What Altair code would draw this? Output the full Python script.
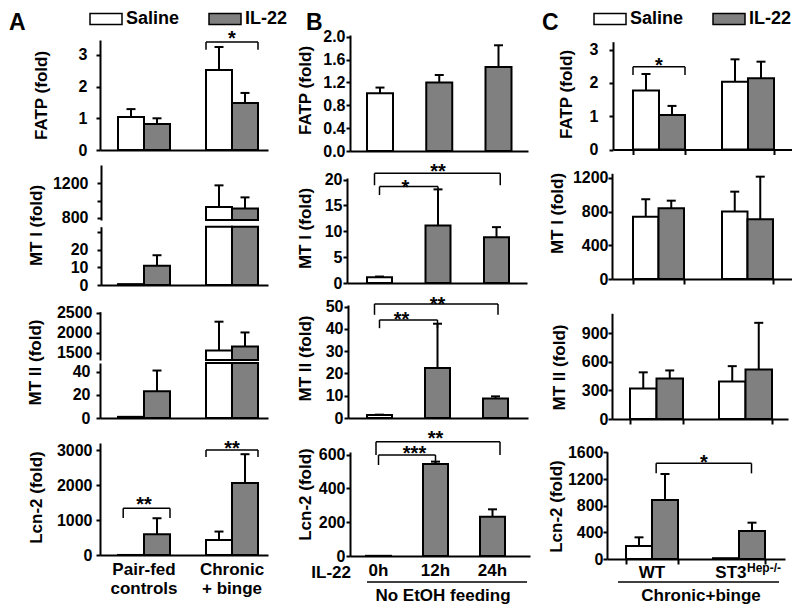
import altair as alt
import pandas as pd

OFF = 8
W, H = 784, 599
FONT = "Liberation Sans"
GRAY = "#808080"

# ---------------- data ----------------
series = ["Saline", "IL-22"]

# Panel A (order: group1-Saline, group1-IL-22, group2-Saline, group2-IL-22)
A_groups = ["Pair-fed controls", "Chronic + binge"]
A_fatp_mean = [1.04, 0.82, 2.52, 1.48]
A_fatp_sem = [0.25, 0.18, 0.73, 0.32]
A_mt1_mean = [0.5, 11, 925, 910]
A_mt1_sem = [0, 6, 250, 127]
A_mt2_mean = [1, 23, 1560, 1660]
A_mt2_sem = [0, 18, 720, 350]
A_lcn_mean = [1, 590, 430, 2060]
A_lcn_sem = [0, 460, 240, 820]

# Panel B
B_times = ["0h", "12h", "24h"]
B_shade = ["baseline", "treated", "treated"]
B_fatp_mean = [1.01, 1.20, 1.47]
B_fatp_sem = [0.10, 0.13, 0.38]
B_mt1_mean = [1.1, 11.1, 8.85]
B_mt1_sem = [0.15, 7.0, 1.95]
B_mt2_mean = [1.3, 22.4, 8.8]
B_mt2_sem = [0.2, 19.9, 0.9]
B_lcn_mean = [1, 544, 232]
B_lcn_sem = [0, 14, 44]

# Panel C
C_groups = ["WT", "ST3"]
C_fatp_mean = [1.77, 1.04, 2.04, 2.14]
C_fatp_sem = [0.50, 0.27, 0.67, 0.50]
C_mt1_mean = [740, 840, 800, 709]
C_mt1_sem = [207, 90, 237, 506]
C_mt2_mean = [320, 425, 395, 520]
C_mt2_sem = [170, 85, 160, 490]
C_lcn_mean = [195, 885, 12, 420]
C_lcn_sem = [130, 390, 0, 125]

panel_letters = ["A", "B", "C"]
B_prefix = "IL-22"
B_caption = "No EtOH feeding"
C_caption = "Chronic+binge"
C_sup = "Hep-/-"


def grouped_df(groups, mean, sem):
    rows = []
    for i, g in enumerate(groups):
        for j, s in enumerate(series):
            k = i * 2 + j
            rows.append(dict(grp=g, series=s, mean=mean[k], sem=sem[k]))
    return pd.DataFrame(rows)


def single_df(cats, shade, mean, sem):
    return pd.DataFrame({"grp": cats, "shade": shade, "mean": mean, "sem": sem})


# ---------------- helpers ----------------
def px(v):
    return v - OFF


def band(cats, x0, x1, first_left, bw, step):
    n = len(cats)
    pi = 1 - bw / step
    outer = (x1 - x0) - (n - pi) * step
    po = outer / (2 * step)
    align = (first_left - x0) / outer
    return alt.Scale(domain=cats, range=[px(x0), px(x1)], paddingInner=pi,
                     paddingOuter=po, align=align)


def lin(dom, yb, yt, clamp=False):
    return alt.Scale(domain=dom, range=[px(yb), px(yt)], nice=False, zero=False, clamp=clamp)


def yaxis(ax_x, values, title=None, tx=None, ty=None, pad=4, fmt="d", hide=None):
    kw = dict(orient="left", offset=-px(ax_x), values=values, labelPadding=pad,
              grid=False, tickSize=4, format=fmt)
    if title:
        kw.update(title=title, titleX=tx - ax_x, titleY=px(ty), titleAngle=270,
                  titleBaseline="middle", titleAlign="center")
    else:
        kw["title"] = None
    if hide:
        kw["labelExpr"] = "indexof(%s, datum.value) >= 0 ? '' : datum.label" % hide
    return alt.Axis(**kw)


def xaxis(base_y, labels=False, ticks=False, expr=None):
    kw = dict(orient="bottom", offset=px(base_y) - H, title=None, labels=labels,
              ticks=ticks, grid=False, labelAngle=0, labelFontSize=17,
              labelPadding=6, labelLineHeight=19)
    if ticks:
        kw.update(tickBand="extent", tickSize=5)
    if expr:
        kw["labelExpr"] = expr
    return alt.Axis(**kw)


def bars_panel(df, xs, ys, xa, ya, fill_field, fill_scale, legend=None,
               grouped=False, bar_filter=None, err_filter=None):
    X = alt.X("grp:N", scale=xs, axis=xa)
    off = {}
    if grouped:
        off = dict(xOffset=alt.XOffset("series:N", scale=alt.Scale(
            domain=series, paddingInner=0, paddingOuter=0)))
    base = alt.Chart(df)
    b = base.transform_filter(bar_filter) if bar_filter else base
    bars = b.mark_bar(stroke="black", strokeWidth=2).encode(
        x=X, y=alt.Y("mean:Q", scale=ys, axis=ya),
        fill=alt.Fill(fill_field + ":N", scale=fill_scale, legend=legend), **off)
    ef = "datum.sem > 0" + (" && " + err_filter if err_filter else "")
    e = base.transform_calculate(hi="datum.mean + datum.sem").transform_filter(ef)
    rule = e.mark_rule(color="black", strokeWidth=2).encode(
        x=X, y=alt.Y("mean:Q", scale=ys, axis=ya), y2="hi:Q", **off)
    cap = e.mark_tick(color="black", thickness=2, size=9, opacity=1).encode(
        x=X, y=alt.Y("hi:Q", scale=ys, axis=ya), **off)
    return [bars, rule, cap]


def bracket(xs, ys, xa, ya, a, b, bpa, bpb, h, end, stars, star_cat,
            star_y, star_bp=0.5, star_dx=0):
    d = pd.DataFrame({"a": [a], "b": [b], "h": [h], "e": [end],
                      "c": [star_cat], "lab": [stars], "s": [star_y]})
    c = alt.Chart(d)
    Yh = alt.Y("h:Q", scale=ys, axis=ya)
    top = c.mark_rule(color="black", strokeWidth=1.5).encode(
        x=alt.X("a:N", scale=xs, axis=xa, bandPosition=bpa),
        x2=alt.X2("b:N", bandPosition=bpb), y=Yh)
    left = c.mark_rule(color="black", strokeWidth=1.5).encode(
        x=alt.X("a:N", scale=xs, axis=xa, bandPosition=bpa), y=Yh, y2="e:Q")
    right = c.mark_rule(color="black", strokeWidth=1.5).encode(
        x=alt.X("b:N", scale=xs, axis=xa, bandPosition=bpb), y=Yh, y2="e:Q")
    txt = c.mark_text(font=FONT, fontSize=20, fontWeight="bold",
                      baseline="alphabetic", dy=12, dx=star_dx).encode(
        x=alt.X("c:N", scale=xs, axis=xa, bandPosition=star_bp),
        y=alt.Y("s:Q", scale=ys, axis=ya), text="lab:N")
    return [top, left, right, txt]


def text_layer(t, x, y, size=17, align="left", baseline="alphabetic"):
    return alt.Chart(pd.DataFrame({"t": [t]})).mark_text(
        font=FONT, fontSize=size, fontWeight="bold", align=align,
        baseline=baseline, color="black").encode(
        text="t:N", x=alt.value(px(x)), y=alt.value(px(y)))


def hline(x0, x1, y):
    return alt.Chart(pd.DataFrame({"t": [0]})).mark_rule(
        color="black", strokeWidth=1.5).encode(
        x=alt.value(px(x0)), x2=alt.value(px(x1)), y=alt.value(px(y)))


fill_AC = alt.Scale(domain=series, range=["white", GRAY])
fill_B = alt.Scale(domain=["baseline", "treated"], range=["white", GRAY])
SYM = "M-1,-0.34H1V0.34H-1Z"


def legend_at(x, y):
    return alt.Legend(orient="none", legendX=px(x), legendY=px(y), direction="horizontal",
                      title=None, symbolType=SYM, symbolSize=1024,
                      symbolStrokeColor="black", symbolStrokeWidth=1.5, symbolOpacity=1,
                      labelFont=FONT, labelFontSize=18, labelFontWeight="bold",
                      labelColor="black", labelOffset=3, columnPadding=26, padding=0)


panels = []
A_expr = ("[substring(datum.label, 0, indexof(datum.label, ' ')), "
          "substring(datum.label, indexof(datum.label, ' ') + 1)]")

# ---- A: FATP ----
df = grouped_df(A_groups, A_fatp_mean, A_fatp_sem)
xs = band(A_groups, 100, 268, 118, 52, 88)
ys = lin([0, 3.47], 150, 40)
xa = xaxis(150)
ya = yaxis(100, [0, 1, 2, 3], "FATP (fold)", 41, 95, pad=9)
panels.append(alt.layer(*bars_panel(df, xs, ys, xa, ya, "series", fill_AC,
                                    legend=legend_at(89, 2), grouped=True),
                        *bracket(xs, ys, xa, ya, A_groups[1], A_groups[1], 0, 1,
                                 3.41, 3.16, "*", A_groups[1], 3.69)))

# ---- A: MT I (broken axis) ----
df = grouped_df(A_groups, A_mt1_mean, A_mt1_sem)
xs = band(A_groups, 101, 268, 118, 52, 88)
ys = lin([777, 1409], 220, 165, clamp=True)
ya = yaxis(101, [800, 1000, 1200], pad=9, hide="[1000]")
panels.append(alt.layer(*bars_panel(df, xs, ys, None, ya, "series", fill_AC, grouped=True,
                                    bar_filter="datum.mean > 777",
                                    err_filter="datum.hi > 777")))
xs = band(A_groups, 101, 268, 118, 52, 88)
ys = lin([0, 33.3], 285, 226.7, clamp=True)
ya = yaxis(101, [0, 10, 20, 30], "MT I (fold)", 36, 225, pad=9, hide="[30]")
panels.append(alt.layer(*bars_panel(df, xs, ys, xaxis(285), ya, "series", fill_AC,
                                    grouped=True, err_filter="datum.hi <= 33.3")))

# ---- A: MT II (broken axis) ----
df = grouped_df(A_groups, A_mt2_mean, A_mt2_sem)
xs = band(A_groups, 100, 268, 118, 52, 88)
ys = lin([1320, 2530], 360, 311.7, clamp=True)
ya = yaxis(100, [1500, 2000, 2500], pad=4)
panels.append(alt.layer(*bars_panel(df, xs, ys, None, ya, "series", fill_AC, grouped=True,
                                    bar_filter="datum.mean > 1320",
                                    err_filter="datum.hi > 1320")))
xs = band(A_groups, 100, 268, 118, 52, 88)
ys = lin([0, 47.5], 418, 363, clamp=True)
ya = yaxis(100, [0, 20, 40], "MT II (fold)", 35, 362, pad=6)
panels.append(alt.layer(*bars_panel(df, xs, ys, xaxis(418), ya, "series", fill_AC,
                                    grouped=True, err_filter="datum.hi <= 47.5")))

# ---- A: Lcn-2 ----
df = grouped_df(A_groups, A_lcn_mean, A_lcn_sem)
xs = band(A_groups, 100, 268, 118, 52, 88)
ys = lin([0, 3200], 555, 443)
xa = xaxis(555, labels=True, expr=A_expr)
ya = yaxis(100, [0, 1000, 2000, 3000], "Lcn-2 (fold)", 36, 497, pad=4)
panels.append(alt.layer(*bars_panel(df, xs, ys, xa, ya, "series", fill_AC, grouped=True),
                        *bracket(xs, ys, xa, ya, A_groups[0], A_groups[0], 0.1, 1,
                                 1334, 1057, "**", A_groups[0], 1600),
                        *bracket(xs, ys, xa, ya, A_groups[1], A_groups[1], 0, 1,
                                 3000, 2800, "**", A_groups[1], 3200)))

# ---- B: FATP ----
df = single_df(B_times, B_shade, B_fatp_mean, B_fatp_sem)
xs = band(B_times, 350, 528, 367, 26, 59.25)
ys = lin([0, 2.03], 151, 35)
ya = yaxis(350, [0, 0.4, 0.8, 1.2, 1.6, 2.0], "FATP (fold)", 305, 90, pad=1, fmt=".1f")
panels.append(alt.layer(*bars_panel(df, xs, ys, xaxis(151), ya, "shade", fill_B)))

# ---- B: MT I ----
df = single_df(B_times, B_shade, B_mt1_mean, B_mt1_sem)
xs = band(B_times, 347, 527, 367, 25, 58.5)
ys = lin([0, 20.3], 283, 178)
xa = xaxis(283)
ya = yaxis(347, [0, 5, 10, 15, 20], "MT I (fold)", 305, 228, pad=1)
panels.append(alt.layer(*bars_panel(df, xs, ys, xa, ya, "shade", fill_B),
                        *bracket(xs, ys, xa, ya, "0h", "12h", 0.5, 0.5, 18.65, 17.0,
                                 "*", "0h", 19.6, star_dx=26),
                        *bracket(xs, ys, xa, ya, "0h", "24h", 0.3, 0.65, 21.2, 18.9,
                                 "**", "12h", 22.6)))

# ---- B: MT II ----
df = single_df(B_times, B_shade, B_mt2_mean, B_mt2_sem)
xs = band(B_times, 348, 528, 367, 25, 58)
ys = lin([0, 50.7], 418, 305)
xa = xaxis(418)
ya = yaxis(348, [0, 10, 20, 30, 40, 50], "MT II (fold)", 305, 358, pad=1)
panels.append(alt.layer(*bars_panel(df, xs, ys, xa, ya, "shade", fill_B),
                        *bracket(xs, ys, xa, ya, "0h", "12h", 0.5, 0.5, 44, 40.3,
                                 "**", "0h", 46.6, star_dx=22),
                        *bracket(xs, ys, xa, ya, "0h", "24h", 0.3, 0.6, 51.2, 46.3,
                                 "**", "12h", 53.5)))

# ---- B: Lcn-2 ----
df = single_df(B_times, B_shade, B_lcn_mean, B_lcn_sem)
xs = band(B_times, 350, 530, 366, 25, 57)
ys = lin([0, 615], 556, 452)
xa = xaxis(556, labels=True)
ya = yaxis(350, [0, 200, 400, 600], "Lcn-2 (fold)", 305, 494, pad=1)
panels.append(alt.layer(*bars_panel(df, xs, ys, xa, ya, "shade", fill_B),
                        *bracket(xs, ys, xa, ya, "0h", "12h", 0.5, 0.5, 597, 538,
                                 "***", "0h", 639, star_dx=36),
                        *bracket(xs, ys, xa, ya, "0h", "24h", 0.4, 0.8, 676, 597,
                                 "**", "12h", 728)))

# ---- C: FATP ----
df = grouped_df(C_groups, C_fatp_mean, C_fatp_sem)
xs = band(C_groups, 613, 796, 633, 52, 89)
ys = lin([0, 3.24], 149.5, 41.7)
xa = xaxis(149.5, ticks=True)
ya = yaxis(613, [0, 1, 2, 3], "FATP (fold)", 566, 94, pad=11)
panels.append(alt.layer(*bars_panel(df, xs, ys, xa, ya, "series", fill_AC,
                                    legend=legend_at(593, 2), grouped=True),
                        *bracket(xs, ys, xa, ya, "WT", "WT", 0, 1, 2.49, 2.24, "*",
                                 "WT", 2.69)))

# ---- C: MT I ----
df = grouped_df(C_groups, C_mt1_mean, C_mt1_sem)
xs = band(C_groups, 612, 793, 633, 51, 89)
ys = lin([0, 1255], 279, 173.3)
ya = yaxis(612, [0, 400, 800, 1200], "MT I (fold)", 557, 213, pad=0)
panels.append(alt.layer(*bars_panel(df, xs, ys, xaxis(279, ticks=True), ya, "series",
                                    fill_AC, grouped=True)))

# ---- C: MT II ----
df = grouped_df(C_groups, C_mt2_mean, C_mt2_sem)
xs = band(C_groups, 612, 788, 630, 53, 89)
ys = lin([0, 1110], 419, 313.3)
ya = yaxis(612, [0, 300, 600, 900], "MT II (fold)", 559, 367, pad=0)
panels.append(alt.layer(*bars_panel(df, xs, ys, xaxis(419, ticks=True), ya, "series",
                                    fill_AC, grouped=True)))

# ---- C: Lcn-2 ----
df = grouped_df(C_groups, C_lcn_mean, C_lcn_sem)
xs = band(C_groups, 607, 785, 626, 52, 87)
ys = lin([0, 1610], 559, 451.7)
xa = xaxis(559, ticks=True)
ya = yaxis(607, [0, 400, 800, 1200, 1600], "Lcn-2 (fold)", 556, 506, pad=0)
lab = alt.Chart(pd.DataFrame({"g": C_groups}))
wt_lab = lab.transform_filter("datum.g == 'WT'").mark_text(
    font=FONT, fontSize=17, fontWeight="bold", baseline="alphabetic").encode(
    x=alt.X("g:N", scale=xs, axis=xa), y=alt.value(px(578)), text="g:N")
st_lab = lab.transform_filter("datum.g == 'ST3'").mark_text(
    font=FONT, fontSize=17, fontWeight="bold", baseline="alphabetic", align="right",
    dx=7.5).encode(x=alt.X("g:N", scale=xs, axis=xa), y=alt.value(px(578)), text="g:N")
sup_lab = alt.Chart(pd.DataFrame({"g": ["ST3"], "t": [C_sup]})).mark_text(
    font=FONT, fontSize=12, fontWeight="bold", baseline="alphabetic", align="left",
    dx=8).encode(x=alt.X("g:N", scale=xs, axis=xa), y=alt.value(px(572)), text="t:N")
panels.append(alt.layer(*bars_panel(df, xs, ys, xa, ya, "series", fill_AC, grouped=True),
                        *bracket(xs, ys, xa, ya, "WT", "ST3", 0.58, 0.74, 1435, 1285,
                                 "*", "ST3", 1535, star_bp=0, star_dx=-9),
                        wt_lab, st_lab, sup_lab))

# ---- annotations ----
annots = [
    text_layer(panel_letters[0], 9, 30, size=23),
    text_layer(panel_letters[1], 306, 30, size=23),
    text_layer(panel_letters[2], 542, 30, size=23),
    text_layer(B_prefix, 351, 578, size=17, align="right"),
    hline(367, 527, 582),
    text_layer(B_caption, 443, 601, size=17, align="center"),
    hline(618, 779, 582),
    text_layer(C_caption, 701, 601, size=17, align="center"),
]

chart = alt.layer(*panels, *annots).resolve_scale(
    x="independent", y="independent", fill="independent", xOffset="independent"
).properties(
    width=W, height=H, autosize=alt.AutoSizeParams(type="none"), padding=0
).configure_axis(
    labelFont=FONT, labelFontSize=16, labelFontWeight="bold", labelColor="black",
    titleFont=FONT, titleFontSize=17, titleFontWeight="bold", titleColor="black",
    domainColor="black", domainWidth=2, tickColor="black", tickWidth=2, grid=False
).configure_view(stroke=None)

chart.save("out.html", embed_options={"renderer": "svg", "actions": False})
